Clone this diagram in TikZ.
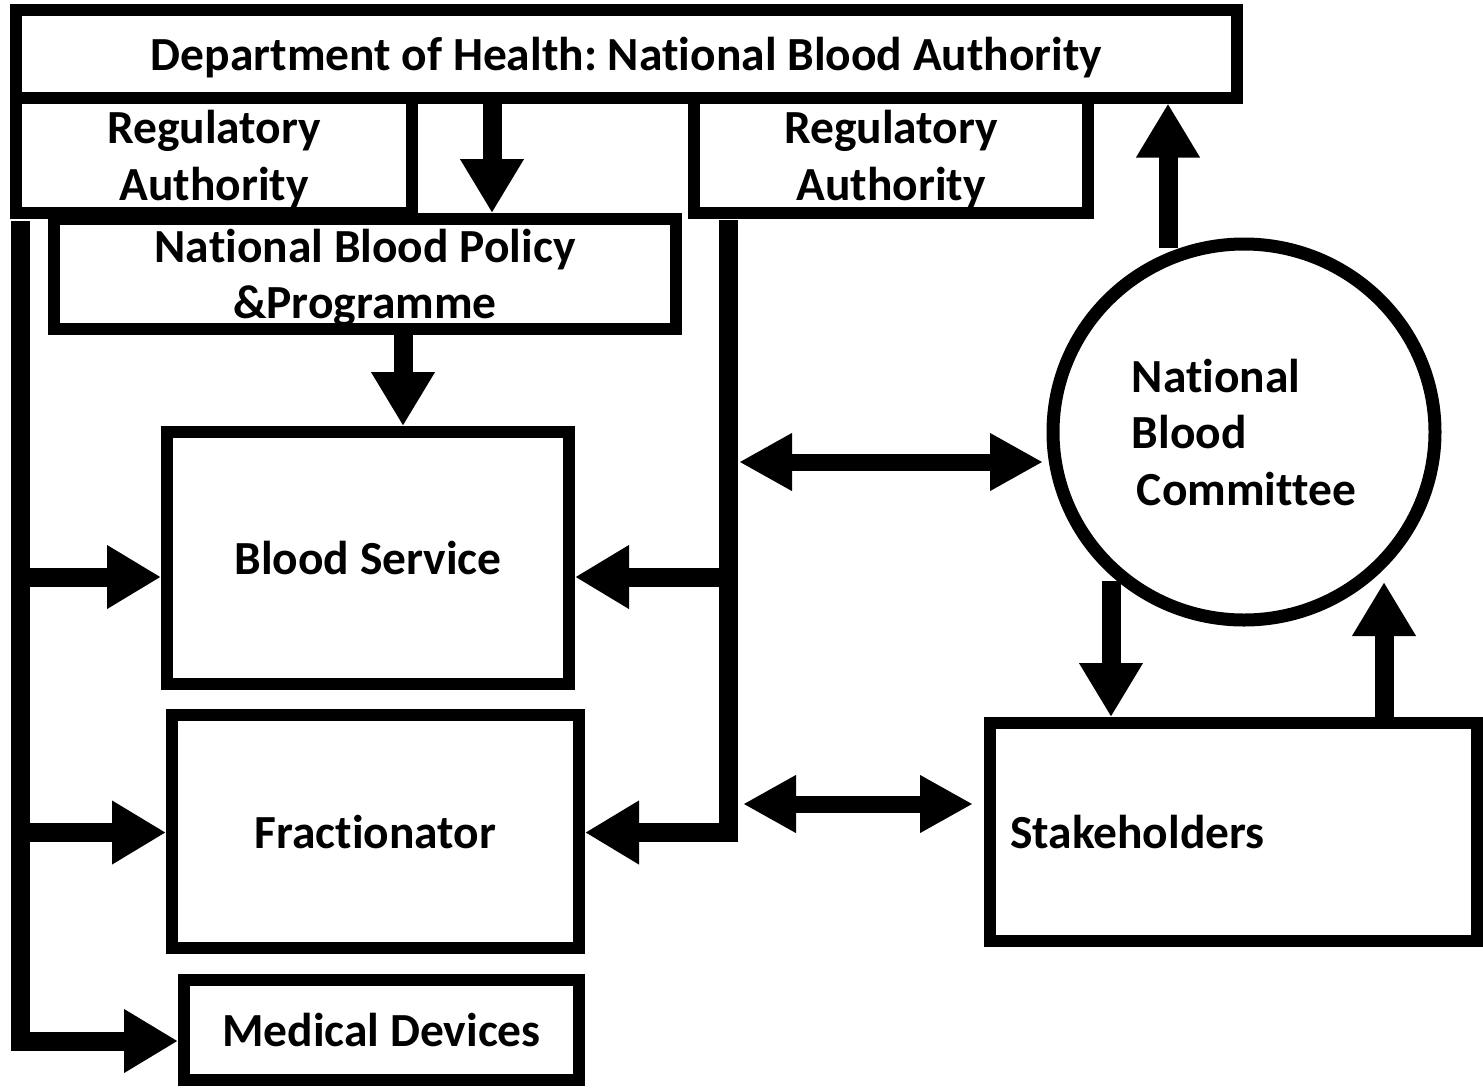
\documentclass[tikz,border=0pt]{standalone}
\usepackage{fontspec}
\setmainfont{Carlito}[Ligatures=NoCommon]
\frenchspacing
\usetikzlibrary{arrows.meta,shapes.geometric,positioning}
\tikzstyle{box} = [rectangle, draw=black, line width=12pt, text depth=0pt, align=center, font=\bfseries\fontsize{47.5}{56.5}\selectfont]
\tikzstyle{committee} = [ellipse, draw=black, line width=13pt, text depth=0pt, align=left, font=\bfseries\fontsize{47.5}{56.5}\selectfont]
\tikzstyle{bigarrow} = [line width=19pt, -{Triangle[length=54pt,width=60pt]}]
\tikzstyle{twoway} = [line width=17pt, {Triangle[length=53pt,width=54pt]}-{Triangle[length=53pt,width=54pt]}]
\tikzstyle{bus} = [line width=19pt]

\begin{document}
\begin{tikzpicture}[x=1pt,y=-1pt]
\useasboundingbox (0,0) rectangle (1483,1088);

% top row
\node[box, minimum width=1221pt, minimum height=87.5pt] (dept) at (626.5,53.75) {Department of Health: National Blood Authority};
\node[box, minimum width=396pt, minimum height=115.5pt] (regL) at (214,155.25) {Regulatory\\Authority};
\node[box, minimum width=394pt, minimum height=115.5pt] (regR) at (891,155.25) {Regulatory\\Authority};
\node[box, minimum width=622pt, minimum height=110pt] (policy) at (365,274) {National Blood Policy\\\&Programme};

% left column
\node[box, minimum width=402pt, minimum height=252pt] (blood) at (368,558) {Blood Service};
\node[box, minimum width=407pt, minimum height=233pt] (fract) at (375.5,831.5) {Fractionator};
\node[box, minimum width=395pt, minimum height=100pt] (medical) at (381.5,1030) {Medical Devices};

% right side
\node[committee, minimum width=382pt, minimum height=376pt] (nbc) at (1244,432) {National\\Blood\\\hspace*{5pt}Committee};
\node[box, align=left, text width=447pt, inner xsep=20pt, minimum height=218pt] (stake) at (1233.5,832) {Stakeholders};

% bus lines
\coordinate (lbus) at ([xshift=10.5pt,yshift=-2pt]regL.south west);
\coordinate (rbus) at ([xshift=40pt,yshift=-1pt]regR.south west);
\coordinate (rbusend) at (728,842);
\coordinate (lb1) at ([yshift=-19pt]blood.west);
\coordinate (lb2) at ([yshift=-1pt]fract.west);
\coordinate (rb1) at ([yshift=-19pt]blood.east);
\coordinate (rb2) at ([yshift=-1pt]fract.east);
\coordinate (nbcin) at ([xshift=-3.5pt,yshift=-30pt]nbc.west);
\coordinate (stakein) at ([xshift=-11pt,yshift=28pt]stake.west);

\draw[bus] (rbus) -- (rbusend);
\draw[bigarrow] (lbus) |- ([yshift=-11pt]medical.west);
\draw[bigarrow] (lbus |- lb1) -- (lb1);
\draw[bigarrow] (lbus |- lb2) -- (lb2);
\draw[bigarrow] (rbus |- rb1) -- (rb1);
\draw[bigarrow] ([xshift=9pt]rbus |- rb2) -- (rb2);

% arrows
\draw[bigarrow] ([xshift=-134.5pt]dept.south) -- ([xshift=127pt]policy.north);
\draw[bigarrow] ([xshift=38pt]policy.south) -- ([xshift=35pt]blood.north);
\draw[bigarrow] ([xshift=-76pt,yshift=-10pt]nbc.north) -- ([xshift=-75pt]dept.south east);
\draw[bigarrow] ([xshift=-133pt,yshift=45.5pt]nbc.south) -- ([xshift=-122.5pt]stake.north);
\draw[bigarrow] ([xshift=150.5pt]stake.north) -- ([xshift=140pt,yshift=44.5pt]nbc.south);
\draw[twoway] ([xshift=11pt]rbus |- nbcin) -- (nbcin);
\draw[twoway] ([xshift=15pt]rbus |- stakein) -- (stakein);
\end{tikzpicture}
\end{document}
